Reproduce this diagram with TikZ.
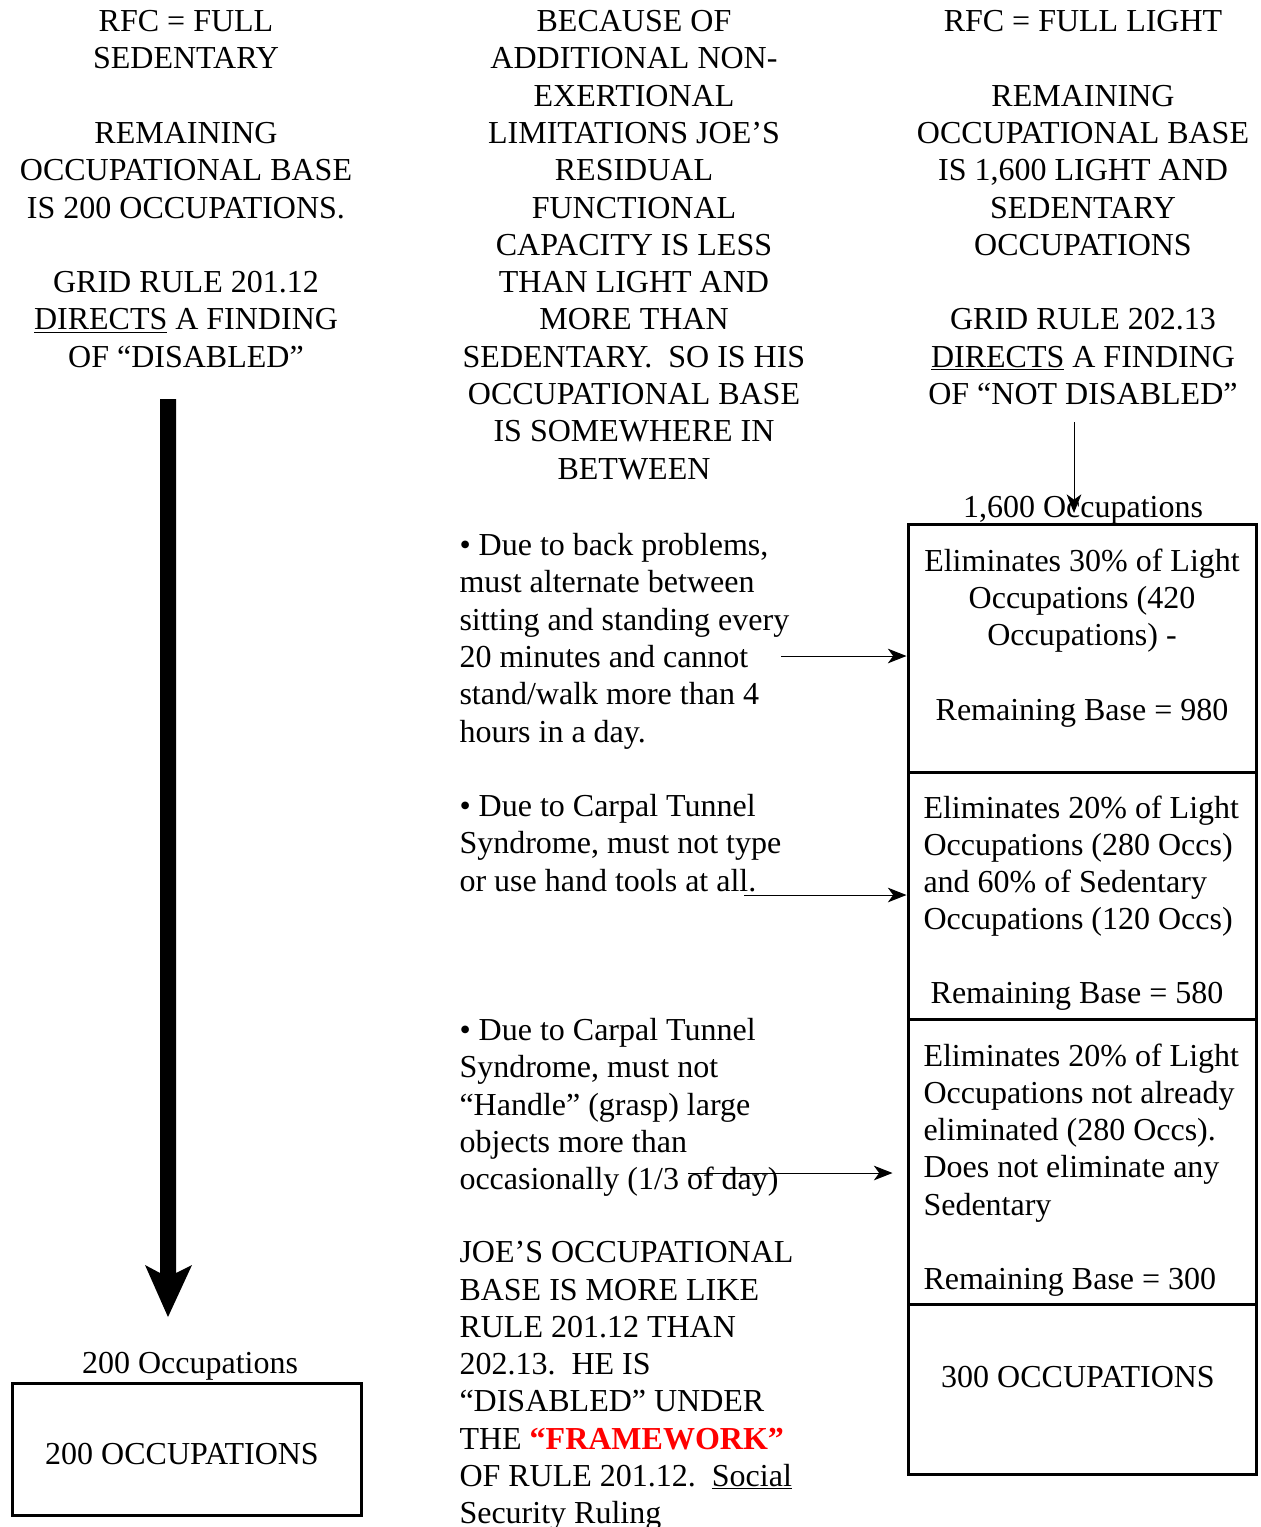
\documentclass[tikz,border=0pt]{standalone}
\usepackage{fontspec}
\setmainfont{Liberation Serif}
\usetikzlibrary{arrows.meta}

\tikzset{every picture/.style={line width=0.75pt}}
\tikzset{
  colhead/.style={anchor=north,inner sep=0pt,align=center,font=\fontsize{24}{27.96}\selectfont},
  bodytext/.style={anchor=north west,inner sep=0pt,align=left,font=\fontsize{24}{27.96}\selectfont},
  cellbox/.style={draw,line width=2.25pt,inner sep=0pt},
  thinarrow/.style={-{Stealth[length=14pt,width=11pt,inset=4pt]},line width=0.75pt}
}

\begin{document}
\begin{tikzpicture}[x=0.75pt,y=0.75pt,yscale=-1,xscale=1]
\useasboundingbox (0,0) rectangle (1260,1527);

% Text Node
\node[colhead] (sedcol) at (186,10) {RFC = FULL\\SEDENTARY\\[27.96pt]REMAINING\\OCCUPATIONAL BASE\\IS 200 OCCUPATIONS.\\[27.96pt]GRID RULE 201.12\\\underline{DIRECTS} A FINDING\\OF “DISABLED”};
% Text Node
\node[colhead] (midcol) at (634,10) {BECAUSE OF\\ADDITIONAL NON-\\EXERTIONAL\\LIMITATIONS JOE’S\\RESIDUAL\\FUNCTIONAL\\CAPACITY IS LESS\\THAN LIGHT AND\\MORE THAN\\SEDENTARY.\ \ SO IS HIS\\OCCUPATIONAL BASE\\IS SOMEWHERE IN\\BETWEEN};
% Text Node
\node[colhead] (lightcol) at (1083,10) {RFC = FULL LIGHT\\[27.96pt]REMAINING\\OCCUPATIONAL BASE\\IS 1,600 LIGHT AND\\SEDENTARY\\OCCUPATIONS\\[27.96pt]GRID RULE 202.13\\\underline{DIRECTS} A FINDING\\OF “NOT DISABLED”};

% Bullet Text Nodes
\node[bodytext] (backtxt) at (459,533) {• Due to back problems,\\must alternate between\\sitting and standing every\\20 minutes and cannot\\stand/walk more than 4\\hours in a day.};
\node[bodytext] (typetxt) at (459,794) {• Due to Carpal Tunnel\\Syndrome, must not type\\or use hand tools at all.};
\node[bodytext] (grasptxt) at (459,1018) {• Due to Carpal Tunnel\\Syndrome, must not\\“Handle” (grasp) large\\objects more than\\occasionally (1/3 of day)};
\node[bodytext] (joetxt) at (459,1241) {JOE’S OCCUPATIONAL\\BASE IS MORE LIKE\\RULE 201.12 THAN\\202.13.\ \ HE IS\\“DISABLED” UNDER\\THE {\bfseries\color{red}“FRAMEWORK”}\\OF RULE 201.12.\ \ \underline{Social}\\Security Ruling};

% Right Boxes
\node[cellbox,minimum width=261pt,minimum height=186pt] (elimA) at (1082,648) {};
\node[cellbox,minimum width=261pt,minimum height=185.25pt] (elimB) at (1082,895.5) {};
\node[cellbox,minimum width=261pt,minimum height=213.75pt] (elimC) at (1082,1161.5) {};
\node[cellbox,minimum width=261pt,minimum height=127.5pt] (restbox) at (1082,1389) {};

% Box Text Nodes
\node[colhead] (elimAtxt) at (1082,548) {Eliminates 30\% of Light\\Occupations (420\\Occupations) -\\[27.96pt]Remaining Base = 980};
\node[bodytext] (elimBtxt) at (923,795) {Eliminates 20\% of Light\\Occupations (280 Occs)\\and 60\% of Sedentary\\Occupations (120 Occs)};
\node[colhead] (elimBrest) at (1077,982) {Remaining Base = 580};
\node[bodytext] (elimCtxt) at (923,1043) {Eliminates 20\% of Light\\Occupations not already\\eliminated (280 Occs).\\Does not eliminate any\\Sedentary\\[27.96pt]Remaining Base = 300};
\node[colhead] (resttxt) at (1078,1366) {300 OCCUPATIONS};
\node[colhead] (sixteen) at (1083,496) {1,600 Occupations};

% Left Box
\node[colhead] (twohund) at (190,1352) {200 Occupations};
\node[cellbox,minimum width=261.75pt,minimum height=99pt] (sedbox) at (186.5,1449) {};
\node[colhead] (sedboxtxt) at (182,1443) {200 OCCUPATIONS};

% Fat Arrow
\fill (160,399) -- (176,399) -- (176,1273) -- (192,1265) -- (168,1317) -- (145,1265) -- (160,1273) -- cycle;

% Straight Arrows
\coordinate (dirtop) at (1074,422);
\coordinate (dirend) at (1074,513);
\draw[thinarrow] (dirtop) -- (dirend);
\coordinate (backarr) at (781,656);
\draw[thinarrow] (backarr) -- (backarr -| elimA.west);
\coordinate (typearr) at (744,895);
\draw[thinarrow] (typearr) -- (typearr -| elimB.west);
\coordinate (grasparr) at (688,1173);
\draw[thinarrow] (grasparr) -- ([xshift=-10.5pt]grasparr -| elimC.west);

\end{tikzpicture}
\end{document}
